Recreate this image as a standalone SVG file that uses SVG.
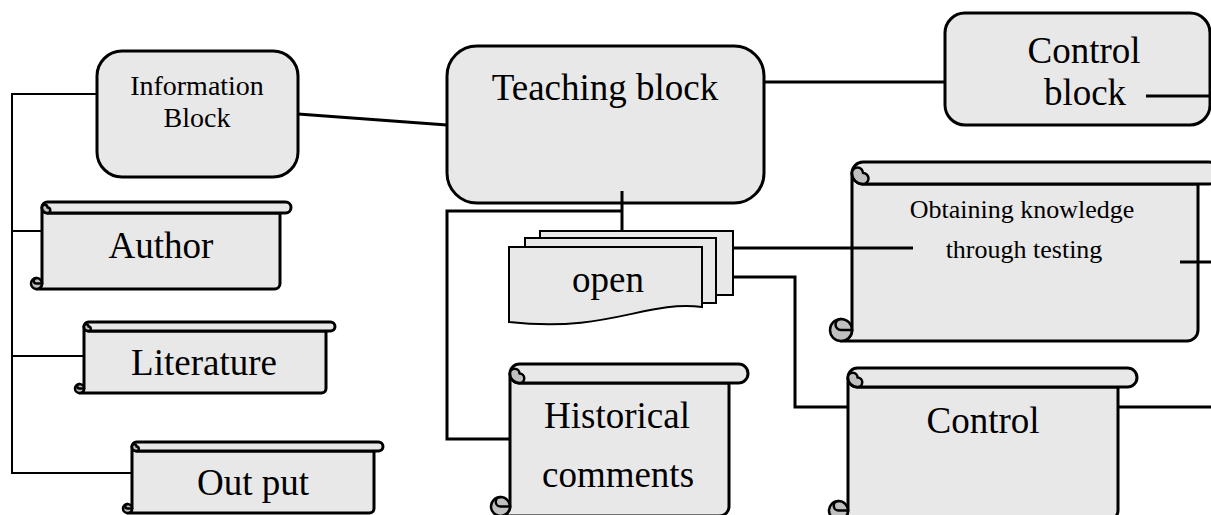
<svg xmlns="http://www.w3.org/2000/svg" xmlns:xlink="http://www.w3.org/1999/xlink" width="1211" height="515" viewBox="0 0 1211 515">
<style>
.box{fill:#e8e8e8;stroke:#000;stroke-width:3;stroke-linejoin:round}
.curl{fill:#c0c0c0;stroke:#000;stroke-width:2.5;stroke-linejoin:round}
.hook{fill:none;stroke:#000;stroke-width:2.5;stroke-linecap:round}
.doc{fill:#e8e8e8;stroke:#000;stroke-width:2}
.ln{fill:none;stroke:#000;stroke-width:3;stroke-linejoin:miter}
.thin{fill:none;stroke:#000;stroke-width:2}
text{font-family:"Liberation Serif","Times New Roman",serif;fill:#000;text-anchor:middle}
.big{font-size:37px}
.mid{font-size:28px}
.sm{font-size:26px}
</style>
<defs>
<g id="scroll9">
<path class="box" d="M9,4.5 V66.5 A4.5,4.5 0 0 1 4.5,71 H246.5 A4.5,4.5 0 0 0 251,66.5 V9 H13.5 A4.5,4.5 0 0 1 9,4.5 Z"/>
<path class="box" d="M9,4.5 A4.5,4.5 0 0 1 13.5,0 H255.5 A4.5,4.5 0 0 1 255.5,9 H13.5 A4.5,4.5 0 0 1 9,4.5 Z"/>
<path class="curl" d="M13.5,4.5 A2.25,2.25 0 0 1 13.5,9 A4.5,4.5 0 0 1 9,4.5 A2.25,2.25 0 0 1 13.5,4.5 Z"/>
<circle class="curl" cx="4.5" cy="66.5" r="4.5"/>
<path class="hook" d="M9,66.5 H4.5 A2.25,2.25 0 0 1 4.5,62"/>
</g>
<g id="curl19">
<path class="curl" d="M28.5,9.5 A4.75,4.75 0 0 1 28.5,19 A9.5,9.5 0 0 1 19,9.5 A4.75,4.75 0 0 1 28.5,9.5 Z"/>
<circle class="curl" cx="9.5" cy="142.5" r="9.5"/>
<path class="hook" d="M19,142.5 H9.5 A4.75,4.75 0 0 1 9.5,133"/>
</g>
</defs>

<g id="information-block">
<rect class="box" x="97" y="51" width="201" height="126" rx="25" ry="25"/>
<text class="mid" x="197" y="95">Information</text>
<text class="mid" x="197" y="127">Block</text>
</g>

<g id="teaching-block">
<rect class="box" x="447" y="46" width="317" height="157" rx="30" ry="30"/>
<text class="big" x="605" y="100">Teaching block</text>
</g>

<g id="control-block">
<rect class="box" x="945" y="13" width="265" height="112" rx="20" ry="20"/>
<text class="big" x="1084" y="63">Control</text>
<text class="big" x="1085" y="105">block</text>
</g>

<g id="author" transform="translate(31,202)">
<path class="box" d="M11,5.5 V81.5 A5.5,5.5 0 0 1 5.5,87 H243.5 A5.5,5.5 0 0 0 249,81.5 V11 H16.5 A5.5,5.5 0 0 1 11,5.5 Z"/>
<path class="box" d="M11,5.5 A5.5,5.5 0 0 1 16.5,0 H254.5 A5.5,5.5 0 0 1 254.5,11 H16.5 A5.5,5.5 0 0 1 11,5.5 Z"/>
<path class="curl" d="M16.5,5.5 A2.75,2.75 0 0 1 16.5,11 A5.5,5.5 0 0 1 11,5.5 A2.75,2.75 0 0 1 16.5,5.5 Z"/>
<circle class="curl" cx="5.5" cy="81.5" r="5.5"/>
<path class="hook" d="M11,81.5 H5.5 A2.75,2.75 0 0 1 5.5,76"/>
<text class="big" x="130" y="56">Author</text>
</g>

<g id="literature">
<use xlink:href="#scroll9" href="#scroll9" transform="translate(75,322)"/>
<text class="big" x="204" y="375">Literature</text>
</g>

<g id="output">
<use xlink:href="#scroll9" href="#scroll9" transform="translate(123,442)"/>
<text class="big" x="253" y="495">Out put</text>
</g>

<g id="open">
<rect class="doc" x="540" y="231" width="193" height="64"/>
<rect class="doc" x="525" y="238" width="191" height="65"/>
<path class="doc" d="M509,247 H702 V307 C645,300 610,333 509,322 Z"/>
<text class="big" x="608" y="292">open</text>
</g>

<g id="historical-comments" transform="translate(491,364)">
<path class="box" d="M19,9.5 V142.5 A9.5,9.5 0 0 1 9.5,152 H228.5 A9.5,9.5 0 0 0 238,142.5 V19 H28.5 A9.5,9.5 0 0 1 19,9.5 Z"/>
<path class="box" d="M19,9.5 A9.5,9.5 0 0 1 28.5,0 H247.5 A9.5,9.5 0 0 1 247.5,19 H28.5 A9.5,9.5 0 0 1 19,9.5 Z"/>
<use xlink:href="#curl19" href="#curl19"/>
<text class="big" x="126" y="64">Historical</text>
<text class="big" x="127" y="123">comments</text>
</g>

<g id="obtaining-knowledge" transform="translate(830,162)">
<path class="box" d="M22,11 V168 A11,11 0 0 1 11,179 H357 A11,11 0 0 0 368,168 V22 H33 A11,11 0 0 1 22,11 Z"/>
<path class="box" d="M22,11 A11,11 0 0 1 33,0 H379 A11,11 0 0 1 379,22 H33 A11,11 0 0 1 22,11 Z"/>
<path class="curl" d="M33,11 A5.5,5.5 0 0 1 33,22 A11,11 0 0 1 22,11 A5.5,5.5 0 0 1 33,11 Z"/>
<circle class="curl" cx="11" cy="168" r="11"/>
<path class="hook" d="M22,168 H11 A5.5,5.5 0 0 1 11,157"/>
<text class="sm" x="192" y="56">Obtaining knowledge</text>
<text class="sm" x="194" y="96">through testing</text>
</g>

<g id="control" transform="translate(829,368)">
<path class="box" d="M19,9.5 V142.5 A9.5,9.5 0 0 1 9.5,152 H279.5 A9.5,9.5 0 0 0 289,142.5 V19 H28.5 A9.5,9.5 0 0 1 19,9.5 Z"/>
<path class="box" d="M19,9.5 A9.5,9.5 0 0 1 28.5,0 H298.5 A9.5,9.5 0 0 1 298.5,19 H28.5 A9.5,9.5 0 0 1 19,9.5 Z"/>
<use xlink:href="#curl19" href="#curl19"/>
<text class="big" x="154" y="65">Control</text>
</g>

<g id="connectors">
<polyline class="thin" points="97,94 12,94 12,473 132,473"/>
<line class="thin" x1="12" y1="231" x2="42" y2="231"/>
<line class="thin" x1="12" y1="356" x2="84" y2="356"/>
<line class="ln" x1="298" y1="114" x2="447" y2="125"/>
<line class="ln" x1="764" y1="82" x2="945" y2="82"/>
<line class="ln" x1="1146" y1="96" x2="1211" y2="96"/>
<line class="ln" x1="622" y1="191" x2="622" y2="231"/>
<polyline class="ln" points="622,211 447,211 447,439 510,439"/>
<line class="ln" x1="733" y1="248" x2="913" y2="248"/>
<polyline class="ln" points="733,277 795,277 795,407 848,407"/>
<line class="ln" x1="1118" y1="407" x2="1211" y2="407"/>
<line class="ln" x1="1180" y1="262" x2="1211" y2="262"/>
</g>
</svg>
